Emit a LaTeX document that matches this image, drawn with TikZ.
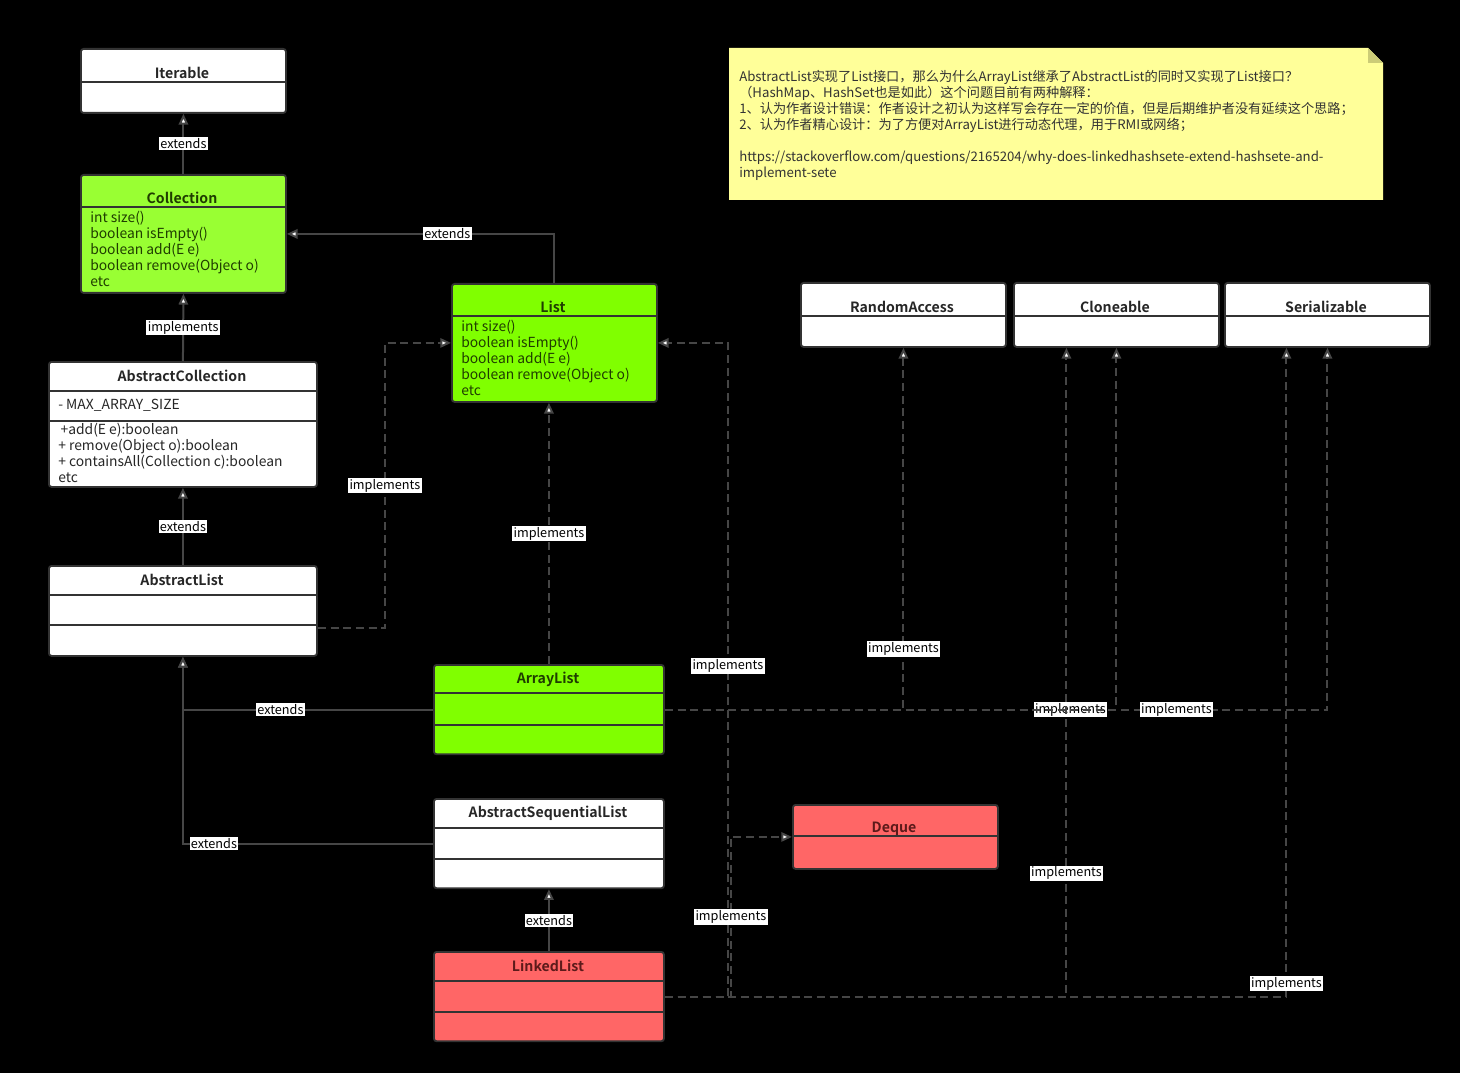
\documentclass[tikz,border=0pt]{standalone}
\usepackage{fontspec}
\setmainfont{Noto Sans CJK SC}[BoldFont={Noto Sans CJK SC Bold}]
\usetikzlibrary{arrows.meta,positioning,calc}

\definecolor{boxline}{HTML}{333333}
\definecolor{edgegray}{HTML}{464646}
\definecolor{collgreen}{HTML}{99FF33}
\definecolor{listgreen}{HTML}{80FF00}
\definecolor{dequered}{HTML}{FF6666}
\definecolor{notefill}{HTML}{FFFF99}
\definecolor{notefold}{HTML}{CCCC77}
\definecolor{greentext}{HTML}{1F3D00}
\definecolor{redtext}{HTML}{5C1A1A}

\newcommand\boxfont{\fontsize{10.4}{12}\selectfont}
\newcommand\headfont{\fontsize{10.6}{12}\selectfont\bfseries}
\newcommand\notefont{\fontsize{9.9}{12}\selectfont}
\newcommand\lblfont{\fontsize{9.5}{12}\selectfont}

\begin{document}
\begin{tikzpicture}[x=0.75pt, y=-0.75pt, >={Triangle[width=7pt,length=8pt,fill=white]}]

% Define styles
\tikzstyle{cls} = [draw=boxline, line width=1.4pt, rounded corners=2pt, inner sep=0pt, anchor=north west]
\tikzstyle{iface} = [cls, minimum width=153.75pt, minimum height=48pt]
\tikzstyle{wide} = [cls, minimum width=201pt]
\tikzstyle{mid} = [cls, minimum width=172.5pt, minimum height=67pt]
\tikzstyle{title} = [font=\headfont, text=black!85]
\tikzstyle{body} = [font=\boxfont, align=left, inner sep=0pt, anchor=north west, text=black!85]
\tikzstyle{divider} = [draw=boxline, line width=1.4pt]
\tikzstyle{ext} = [draw=edgegray, line width=1.5pt, ->]
\tikzstyle{impl} = [ext, dash pattern=on 6pt off 3.5pt]
\tikzstyle{lbl} = [fill=white, text=black, inner sep=1pt, font=\lblfont]

\fill[black] (0,0) rectangle (1460,1073);
\useasboundingbox (0,0) rectangle (1460,1073);

% Note
\fill[notefill] (729,48) -- (1368,48) -- (1383,63) -- (1383,200) -- (729,200) -- cycle;
\fill[notefold] (1368,48) -- (1368,63) -- (1383,63) -- cycle;
\node[body, font=\notefont, text=black!80] (note) at (739,70) {AbstractList实现了List接口，那么为什么ArrayList继承了AbstractList的同时又实现了List接口？\\
（HashMap、HashSet也是如此）这个问题目前有两种解释：\\
1、认为作者设计错误：作者设计之初认为这样写会存在一定的价值，但是后期维护者没有延续这个思路；\\
2、认为作者精心设计：为了方便对ArrayList进行动态代理，用于RMI或网络；\\[12pt]
https://stackoverflow.com/questions/2165204/why-does-linkedhashsete-extend-hashsete-and-\\
implement-sete};

% Classes
\node[iface, fill=white] (iterable) at (80,48) {};
\node[title] at (182,73) {Iterable};
\draw[divider] (80,82) -- (285,82);

\node[iface, fill=collgreen, minimum height=88.5pt] (collection) at (80,174) {};
\node[title, text=greentext] at (182,198) {Collection};
\draw[divider] (80,207) -- (285,207);
\node[body, text=greentext] at (90,211) {int size()\\ boolean isEmpty()\\ boolean add(E e)\\ boolean remove(Object o)\\ etc};

\node[iface, fill=listgreen, minimum height=88.5pt] (list) at (451,283) {};
\node[title, text=greentext] at (553,307) {List};
\draw[divider] (451,316) -- (656,316);
\node[body, text=greentext] at (461,320) {int size()\\ boolean isEmpty()\\ boolean add(E e)\\ boolean remove(Object o)\\ etc};

\node[wide, fill=white, minimum height=93.75pt] (abscoll) at (48,361) {};
\node[title] at (182,376) {AbstractCollection};
\draw[divider] (48,391) -- (316,391);
\draw[divider] (48,421) -- (316,421);
\node[body] at (58,399) {- MAX\_ARRAY\_SIZE};
\node[body] at (58,423) {\,+add(E e):boolean\\ + remove(Object o):boolean\\ + containsAll(Collection c):boolean\\ etc};

\node[wide, fill=white, minimum height=67.5pt] (abslist) at (48,565) {};
\node[title] at (182,580) {AbstractList};
\draw[divider] (48,595) -- (316,595);
\draw[divider] (48,625) -- (316,625);

\node[mid, fill=listgreen] (arraylist) at (433,664) {};
\node[title, text=greentext] at (548,679) {ArrayList};
\draw[divider] (433,693) -- (663,693);
\draw[divider] (433,725) -- (663,725);

\node[mid, fill=white] (asl) at (433,798) {};
\node[title] at (548,813) {AbstractSequentialList};
\draw[divider] (433,828) -- (663,828);
\draw[divider] (433,859) -- (663,859);

\node[mid, fill=dequered] (linked) at (433,951) {};
\node[title, text=redtext] at (548,966) {LinkedList};
\draw[divider] (433,981) -- (663,981);
\draw[divider] (433,1012) -- (663,1012);

\node[iface, fill=dequered] (deque) at (792,804) {};
\node[title, text=redtext] at (894,829) {Deque};
\draw[divider] (792,836) -- (997,836);

\node[iface, fill=white] (random) at (800,282) {};
\node[title] at (902,307) {RandomAccess};
\draw[divider] (800,316) -- (1005,316);

\node[iface, fill=white] (clone) at (1013,282) {};
\node[title] at (1115,307) {Cloneable};
\draw[divider] (1013,316) -- (1218,316);

\node[iface, fill=white] (serial) at (1224,282) {};
\node[title] at (1326,307) {Serializable};
\draw[divider] (1224,316) -- (1429,316);

% Connections
\draw[ext] (collection.north) -- node[lbl] {extends} (iterable.south);
\draw[ext] (list.north) |- node[lbl, pos=0.70] {extends} (collection.east);
\draw[ext] (abscoll.north) -- node[lbl] {implements} (collection.south);
\draw[ext] (abslist.north) -- node[lbl] {extends} (abscoll.south);
\draw[impl] ($(abslist.east)+(0,17)$) -- ++(67,0) |- node[lbl, pos=0.25] {implements} (list.west);
\draw[impl] (arraylist.north) -- node[lbl] {implements} (arraylist.north |- list.south);
\draw[ext] (arraylist.west) -| node[lbl, pos=0.305] {extends} (abslist.south);
\draw[ext] (asl.west) -| node[lbl, pos=0.438] {extends} (abslist.south);
\draw[ext] (linked.north) -- node[lbl] {extends} (asl.south);
\draw[impl] (arraylist.east) -| node[lbl, pos=0.584] {implements} (random.south);
\draw[impl] (arraylist.east) -| node[lbl, pos=0.449] {implements} (clone.south);
\draw[impl] (arraylist.east) -| node[lbl, pos=0.386] {implements} (serial.south);
\draw[impl] (linked.east) -- ++(63,0) |- node[lbl, pos=0.253] {implements} (list.east);
\draw[impl] (linked.east) -- ++(66,0) |- node[lbl, pos=0.25] {implements} (deque.west);
\draw[impl] (linked.east) -| node[lbl, pos=0.595] {implements} ($(clone.south)+(-50,0)$);
\draw[impl] (linked.east) -| node[lbl, pos=0.51] {implements} ($(serial.south)+(-41,0)$);

\end{tikzpicture}
\end{document}
